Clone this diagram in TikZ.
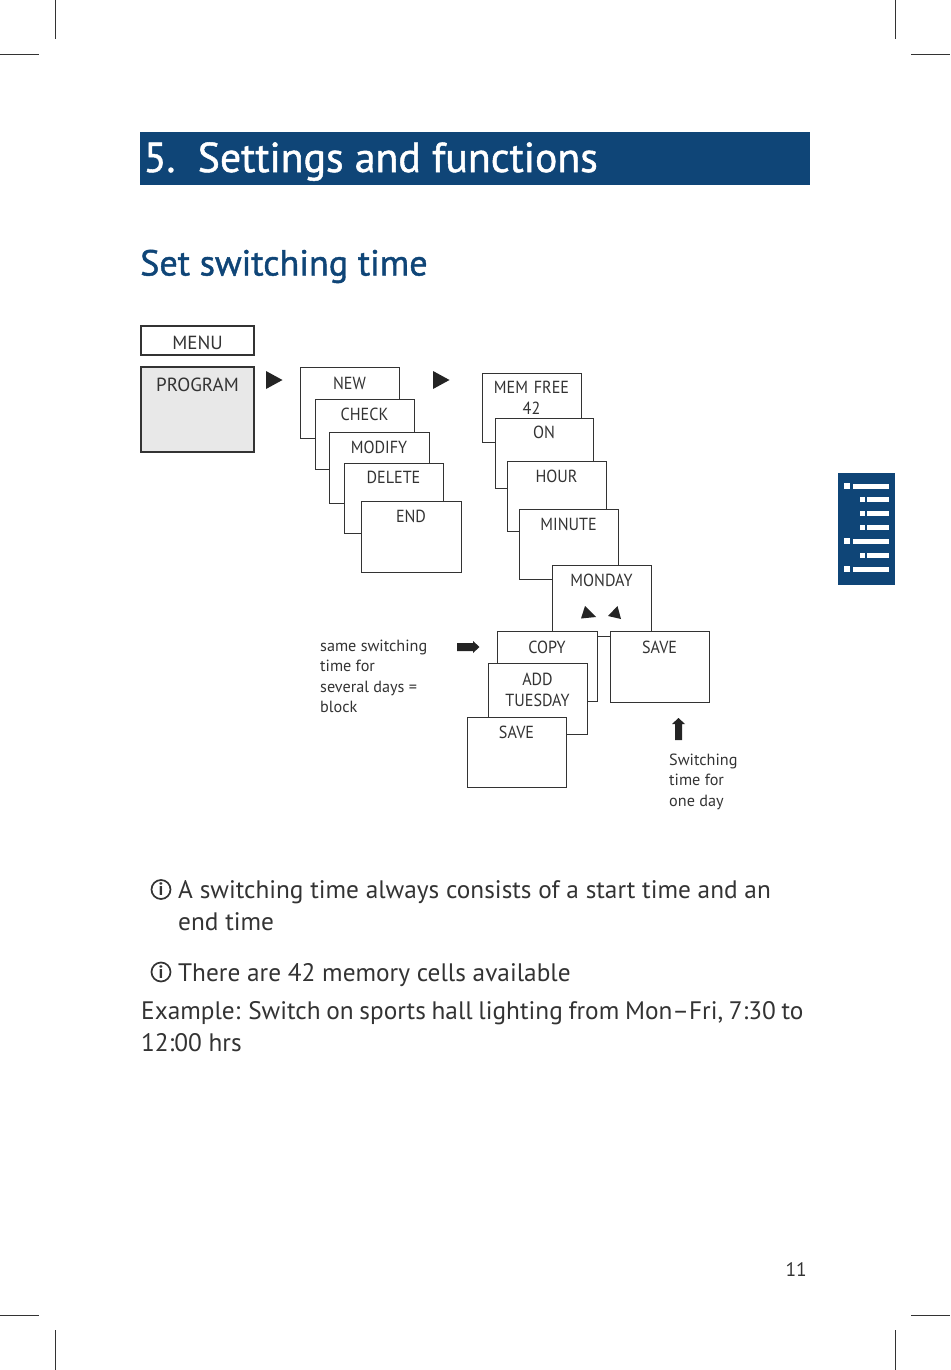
\documentclass[tikz,border=0pt]{standalone}
\usepackage{fontspec}
\setmainfont{PT Sans}
\newfontfamily\headfont[FakeBold=1.2]{PT Sans}
\newfontfamily\panelfont[FakeStretch=0.92]{PT Sans}
\definecolor{pageblue}{HTML}{0F4577}
\definecolor{inkgray}{HTML}{333333}

\begin{document}
\begin{tikzpicture}[x=1pt,y=-1pt]

% ----------------------------
% Styles
% ----------------------------
\tikzset{
	crop/.style={line width=1pt,draw=inkgray},
	panel/.style={draw=inkgray,line width=1pt,fill=white,anchor=north west,inner sep=0pt,outer sep=0pt},
	paneltext/.style={anchor=base,text=inkgray,font=\panelfont\fontsize{17.5}{21}\selectfont,align=center},
	menutext/.style={anchor=base,text=inkgray,font=\fontsize{19}{21}\selectfont},
	notetext/.style={anchor=base west,text=inkgray,font=\fontsize{16.2}{20.5}\selectfont,align=left},
	bodytext/.style={anchor=base west,text=inkgray,font=\fontsize{25.3}{32}\selectfont,align=left},
	infoicon/.style={circle,draw=inkgray,line width=1.7pt,minimum size=19pt,inner sep=0pt,text=inkgray,font=\fontsize{18}{18}\bfseries\selectfont},
	arrowmark/.style={fill=inkgray!70!black}
}

\useasboundingbox (0,0) rectangle (950,1370);

% ============================================================
% Crop marks
% ============================================================
\draw[crop] (55,0) -- (55,39);
\draw[crop] (895,0) -- (895,39);
\draw[crop] (0,55) -- (39,55);
\draw[crop] (911,55) -- (950,55);
\draw[crop] (0,1315) -- (39,1315);
\draw[crop] (911,1315) -- (950,1315);
\draw[crop] (55,1330) -- (55,1370);
\draw[crop] (895,1330) -- (895,1370);

% ============================================================
% Headings
% ============================================================
\fill[pageblue] (140,132) rectangle (810,184.5);
\node[anchor=base west,inner sep=0pt,text=white,font=\headfont\fontsize{41.8}{48}\selectfont] (title) at (143.5,172) {5.\ \ Settings and functions};
\node[anchor=base west,inner sep=0pt,text=pageblue,font=\headfont\fontsize{36.2}{42}\selectfont] (subtitle) at (140,275.5) {Set switching time};

% ============================================================
% Side tab
% ============================================================
\fill[pageblue] (838,473) rectangle (895,584.5);
\foreach \y in {486,541,569}{
	\fill[white] (844,\y-3) rectangle (850,\y+3);
	\fill[white] (853,\y-2.5) rectangle (889,\y+3);
}
\foreach \y in {499,513,527,555}{
	\fill[white] (860,\y-2.5) rectangle (865,\y+2.5);
	\fill[white] (867,\y-2.5) rectangle (889,\y+2.5);
}

% ============================================================
% Menu panels, back to front: name/x/y/w/h/baseline/label
% ============================================================
\node[panel,line width=1.3pt,minimum width=113pt,minimum height=29pt] (menu) at (141,326) {};
\node[menutext] (menu text) at (197.5,349) {MENU};
\node[panel,line width=1.3pt,fill=gray!18,minimum width=113pt,minimum height=85pt] (program) at (141,367) {};
\node[menutext] (program text) at (197.5,391) {PROGRAM};

\foreach \n/\x/\y/\w/\h/\b/\t in {
	new/300/367/99/71/389/{NEW},
	check/315/399/99/70/420/{CHECK},
	modify/329/432/100/71/453.500/{MODIFY},
	delete/344/463/99/70/483.500/{DELETE},
	end/361/501/100/71/522.500/{END},
	memfree/482/373/99/69/393/{MEM FREE\\42},
	on/495/418/98/70/438.500/{ON},
	hour/507/461/99/70/482/{HOUR},
	minute/519/509/99/70/530/{MINUTE},
	monday/552/565/99/71/586.500/{MONDAY},
	copy/497/631/100/70/653/{COPY},
	daysave/610/631/99/71/653/{SAVE},
	tuesday/488/663/99/71/685/{ADD\\TUESDAY},
	blocksave/467/717/99/70/738/{SAVE}
}{
	\node[panel,minimum width=\w pt,minimum height=\h pt] (\n) at (\x,\y) {};
	\node[paneltext,text width=\w pt] (\n text) at (\x+\w/2,\b) {\t};
}

% ============================================================
% Arrow marks
% ============================================================
\fill[arrowmark] (266,371) -- (282.5,380) -- (266,389) -- cycle;
\fill[arrowmark] (433,371) -- (449.5,380) -- (433,389) -- cycle;
\fill[arrowmark] (581,618.500) -- (585,606) -- (596,617) -- cycle;
\fill[arrowmark] (608,616) -- (617.500,606) -- (621,619) -- cycle;
\fill[arrowmark] (457,643) -- (473,643) -- (473,641) -- (479.500,647) -- (473,653) -- (473,651) -- (457,651) -- cycle;
\fill[arrowmark] (675,740) -- (675,724) -- (672,724) -- (678.500,718) -- (685,724) -- (682,724) -- (682,740) -- cycle;

% ============================================================
% Notes (a node of several lines sits on its last baseline)
% ============================================================
\node[notetext,inner sep=0pt] (blocknote) at (320,712.5) {same switching\\time for\\several days =\\block};
\node[notetext,inner sep=0pt] (daynote) at (669,806) {Switching\\time for\\one day};

% ============================================================
% Body text
% ============================================================
\node[infoicon] (infoa) at (161,889.500) {i};
\node[bodytext,inner sep=0pt] (bodya) at (178,930) {A switching time always consists of a start time and an\\end time};
\node[infoicon] (infob) at (161,972) {i};
\node[bodytext,inner sep=0pt] (bodyb) at (178,981) {There are 42 memory cells available};
\node[bodytext,inner sep=0pt] (example) at (141,1051) {\spaceskip=.225em\relax Example: Switch on sports hall lighting from Mon–Fri, 7:30 to\\12:00 hrs};
\node[anchor=base east,inner sep=0pt,text=inkgray,font=\fontsize{19.5}{25}\selectfont] (pagenum) at (807,1276) {11};

\end{tikzpicture}
\end{document}
